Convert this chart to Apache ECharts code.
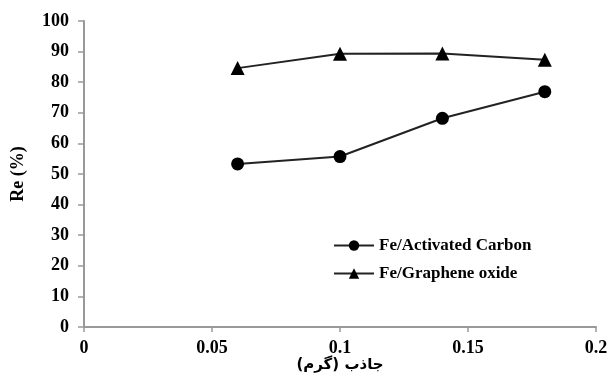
<!DOCTYPE html>
<html><head><meta charset="utf-8">
<script src="https://cdn.jsdelivr.net/npm/echarts@6/dist/echarts.min.js"></script>
<style>html,body{margin:0;padding:0;background:#fff}#c{width:610px;height:383px}</style>
</head><body><div id="c"></div>
<script>
var xValues = [0.06, 0.10, 0.14, 0.18];
var activatedCarbon = [53.3, 55.7, 68.2, 76.9];
var grapheneOxide = [84.6, 89.3, 89.4, 87.3];
var seriesNames = ['Fe/Activated Carbon', 'Fe/Graphene oxide'];
var xTitle = 'جاذب (گرم)';
var yTitle = 'Re (%)';

function pairs(xs, ys){ return xs.map(function(x,i){ return [x, ys[i]]; }); }

var font = '"Liberation Serif", "Times New Roman", serif';
var chart = echarts.init(document.getElementById('c'), null, {renderer:'canvas'});
chart.setOption({
  animation:false,
  backgroundColor:'#fff',
  grid:{left:84, right:14, top:21, bottom:56, containLabel:false, outerBoundsMode:'none'},
  legend:{
    orient:'vertical', left:328, top:232, itemGap:11, itemWidth:40, itemHeight:13,
    textStyle:{fontFamily:font, fontWeight:'bold', fontSize:17, color:'#000'},
    data:[seriesNames[0], seriesNames[1]]
  },
  xAxis:{
    type:'value', min:0, max:0.2, interval:0.05,
    name:xTitle, nameLocation:'middle', nameGap:31, nameMoveOverlap:false,
    nameTextStyle:{fontFamily:'"DejaVu Sans", sans-serif', fontWeight:'bold', fontSize:15, color:'#000'},
    axisLine:{lineStyle:{color:'#999', width:2}},
    axisTick:{show:true, inside:false, length:5, lineStyle:{color:'#999', width:1.5}},
    splitLine:{show:false},
    axisLabel:{fontFamily:font, fontWeight:'bold', fontSize:18, color:'#000', margin:12,
      formatter:function(v){ return String(+v.toFixed(2)); }}
  },
  yAxis:{
    type:'value', min:0, max:100, interval:10,
    name:yTitle, nameLocation:'middle', nameGap:57, nameRotate:90, nameMoveOverlap:false,
    nameTextStyle:{fontFamily:font, fontWeight:'bold', fontSize:18, color:'#000'},
    axisLine:{show:true, lineStyle:{color:'#999', width:2}},
    axisTick:{show:true, inside:false, length:6, lineStyle:{color:'#999', width:1.5}},
    splitLine:{show:false},
    axisLabel:{fontFamily:font, fontWeight:'bold', fontSize:18, color:'#000', margin:15}
  },
  series:[
    {name:seriesNames[0], type:'line', data:pairs(xValues, activatedCarbon),
     symbol:'circle', symbolSize:13, lineStyle:{color:'#222', width:2},
     itemStyle:{color:'#000'}},
    {name:seriesNames[1], type:'line', data:pairs(xValues, grapheneOxide),
     symbol:'triangle', symbolSize:14, lineStyle:{color:'#222', width:2},
     itemStyle:{color:'#000'}}
  ]
});
</script></body></html>
